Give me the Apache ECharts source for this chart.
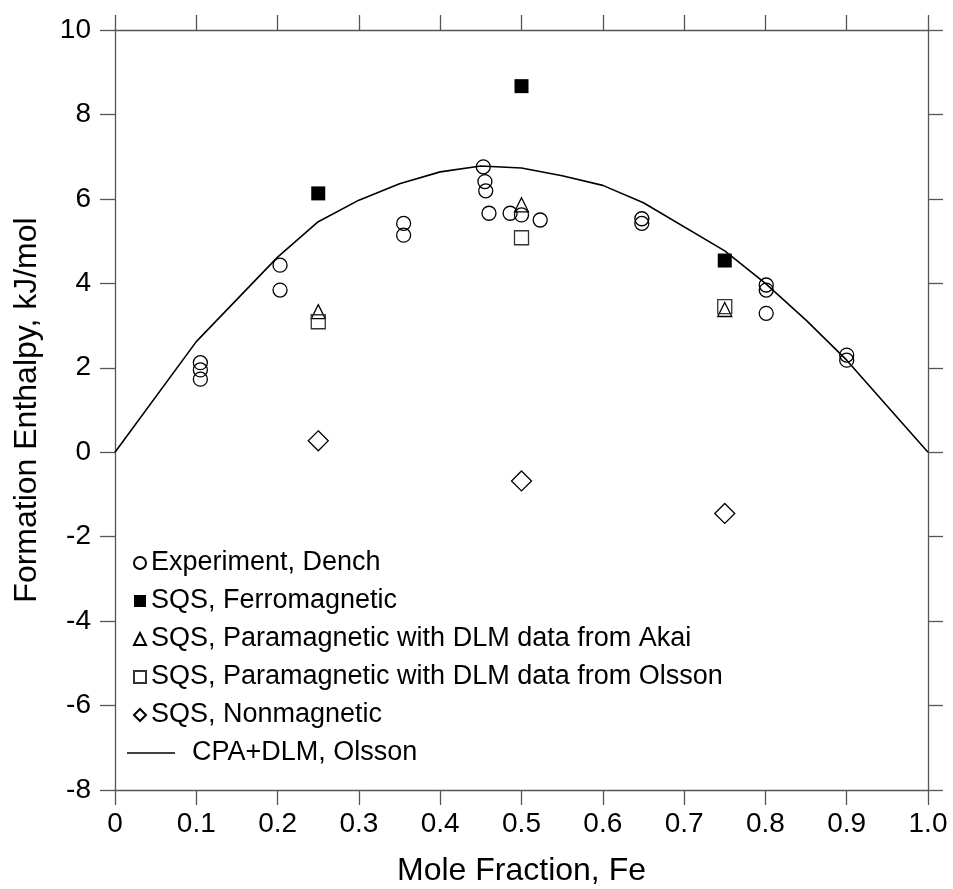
<!DOCTYPE html>
<html>
<head>
<meta charset="utf-8">
<script src="https://cdn.jsdelivr.net/npm/echarts@6/dist/echarts.min.js"></script>
<style>
html,body{margin:0;padding:0;background:#fff;}
#chart{width:953px;height:889px;}
</style>
</head>
<body>
<div id="chart"></div>
<script>
// ---- data ----
var xTickLabels = ['0','0.1','0.2','0.3','0.4','0.5','0.6','0.7','0.8','0.9','1.0'];
var seriesNames = [
  'Experiment, Dench',
  'SQS, Ferromagnetic',
  'SQS, Paramagnetic with DLM data from Akai',
  'SQS, Paramagnetic with DLM data from Olsson',
  'SQS, Nonmagnetic',
  'CPA+DLM, Olsson'
];
var expX = [0.105,0.105,0.105,0.203,0.203,0.355,0.355,0.453,0.455,0.456,0.460,0.486,0.500,0.523,0.648,0.648,0.801,0.801,0.801,0.900,0.900];
var expY = [2.12,1.95,1.73,4.43,3.84,5.42,5.14,6.76,6.41,6.19,5.66,5.66,5.62,5.50,5.53,5.42,3.96,3.84,3.29,2.30,2.18];
var sqsX = [0.25,0.50,0.75];
var ferroY = [6.13,8.67,4.54];
var akaiY = [3.33,5.86,3.38];
var olssonY = [3.09,5.08,3.45];
var nonmagY = [0.27,-0.68,-1.45];
var cpaX = [0,0.1,0.2,0.25,0.3,0.35,0.4,0.45,0.5,0.55,0.6,0.65,0.75,0.8,0.85,0.9,1.0];
var cpaY = [0,2.62,4.62,5.46,5.97,6.36,6.64,6.78,6.73,6.55,6.32,5.91,4.77,4.00,3.13,2.18,0];

function pairs(xs, ys){ return xs.map(function(x,i){ return [x, ys[i]]; }); }

var FONT = '"Liberation Sans", Arial, Helvetica, sans-serif';
var AX = '#555';
var chart = echarts.init(document.getElementById('chart'), null, {renderer:'canvas'});

var openStyle = {color:'rgba(255,255,255,0)', borderColor:'#000', borderWidth:1.3, opacity:1};

var commonX = {
  type:'value', min:0, max:1, interval:0.1,
  axisLine:{show:true, onZero:false, lineStyle:{color:AX, width:1.3}},
  axisTick:{show:true, inside:false, length:15, lineStyle:{color:AX, width:1.3}},
  splitLine:{show:false}
};
var commonY = {
  type:'value', min:-8, max:10, interval:2,
  axisLine:{show:true, onZero:false, lineStyle:{color:AX, width:1.3}},
  axisTick:{show:true, inside:false, length:15, lineStyle:{color:AX, width:1.3}},
  splitLine:{show:false}
};

var option = {
  animation:false,
  backgroundColor:'#fff',
  grid:{left:115, right:25, top:30, bottom:99, containLabel:false, outerBoundsMode:'none'},
  xAxis:[
    Object.assign({}, commonX, {
      position:'bottom',
      name:'Mole Fraction, Fe', nameLocation:'middle', nameGap:65,
      nameTextStyle:{fontSize:32, color:'#000', fontFamily:FONT},
      axisLabel:{show:true, margin:20, fontSize:28, color:'#000', fontFamily:FONT,
        formatter:function(v){ return xTickLabels[Math.round(v*10)]; }}
    }),
    Object.assign({}, commonX, {position:'top', axisLabel:{show:false}})
  ],
  yAxis:[
    Object.assign({}, commonY, {
      position:'left',
      name:'Formation Enthalpy, kJ/mol', nameLocation:'middle', nameGap:72, nameRotate:90,
      nameTextStyle:{fontSize:32, color:'#000', fontFamily:FONT},
      axisLabel:{show:true, margin:24, fontSize:28, color:'#000', fontFamily:FONT}
    }),
    Object.assign({}, commonY, {position:'right', axisLabel:{show:false}})
  ],
  legend:[
    {
      orient:'vertical', left:133, top:549, padding:0, itemWidth:12, itemHeight:12, itemGap:10,
      textStyle:{fontSize:27, lineHeight:28, color:'#000', fontFamily:FONT},
      data:seriesNames.slice(0,5)
    },
    {
      orient:'vertical', left:127, top:739, padding:0, itemWidth:48, itemHeight:1.5, itemGap:10,
      textStyle:{fontSize:27, lineHeight:28, color:'#000', fontFamily:FONT, padding:[0,0,0,12]},
      data:[{name:seriesNames[5], icon:'rect'}]
    }
  ],
  series:[
    {name:seriesNames[0], type:'scatter', symbol:'circle', symbolSize:14,
      itemStyle:openStyle, data:pairs(expX, expY), z:3},
    {name:seriesNames[1], type:'scatter', symbol:'rect', symbolSize:14,
      itemStyle:{color:'#000', borderColor:'#000', borderWidth:0, opacity:1}, data:pairs(sqsX, ferroY), z:3},
    {name:seriesNames[2], type:'scatter', symbol:'triangle', symbolSize:14,
      itemStyle:openStyle, data:pairs(sqsX, akaiY), z:3},
    {name:seriesNames[3], type:'scatter', symbol:'rect', symbolSize:14,
      itemStyle:{color:'rgba(255,255,255,0)', borderColor:'#333', borderWidth:1.3, opacity:1}, data:pairs(sqsX, olssonY), z:3},
    {name:seriesNames[4], type:'scatter', symbol:'diamond', symbolSize:20,
      itemStyle:openStyle, data:pairs(sqsX, nonmagY), z:3},
    {name:seriesNames[5], type:'line', symbol:'none', smooth:false,
      lineStyle:{color:'#000', width:1.6}, itemStyle:{color:'#000'},
      data:pairs(cpaX, cpaY), z:2}
  ]
};
chart.setOption(option);
</script>
</body>
</html>
